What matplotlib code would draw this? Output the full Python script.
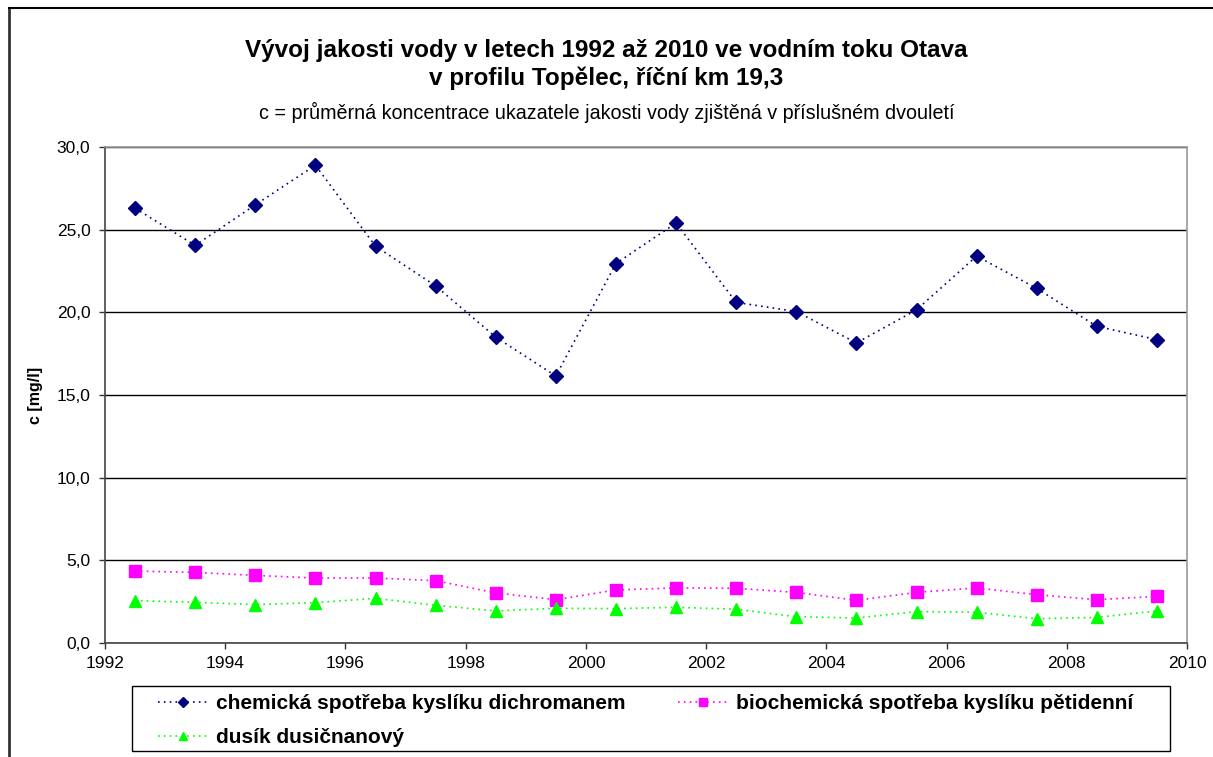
import matplotlib
matplotlib.use("Agg")
import matplotlib.pyplot as plt
from matplotlib.lines import Line2D
from matplotlib.patches import Rectangle
from matplotlib.ticker import FuncFormatter, MultipleLocator

plt.rcParams['font.family'] = ['Liberation Sans', 'DejaVu Sans']

# dvouletí 1992/93 ... 2009/10, body uprostřed intervalu
roky = [1992.5, 1993.5, 1994.5, 1995.5, 1996.5, 1997.5, 1998.5, 1999.5, 2000.5,
        2001.5, 2002.5, 2003.5, 2004.5, 2005.5, 2006.5, 2007.5, 2008.5, 2009.5]
chsk_cr = [26.3, 24.05, 26.5, 28.9, 24.0, 21.6, 18.5, 16.15, 22.95,
           25.4, 20.6, 20.05, 18.15, 20.15, 23.4, 21.45, 19.15, 18.35]
bsk5 = [4.35, 4.27, 4.09, 3.93, 3.93, 3.77, 3.03, 2.62, 3.21,
        3.33, 3.31, 3.06, 2.58, 3.06, 3.33, 2.92, 2.62, 2.82]
n_no3 = [2.56, 2.46, 2.32, 2.44, 2.70, 2.28, 1.94, 2.10, 2.08,
         2.16, 2.04, 1.59, 1.51, 1.90, 1.86, 1.47, 1.55, 1.94]

nazvy = ["chemická spotřeba kyslíku dichromanem",
         "biochemická spotřeba kyslíku pětidenní",
         "dusík dusičnanový"]

fig = plt.figure(figsize=(12.13, 7.57), dpi=100)
W, H = 1213, 757
ax = fig.add_axes([105 / W, 1 - 643 / H, (1187 - 105) / W, (643 - 147) / H])

tecky = (0, (1, 2.5))
l1, = ax.plot(roky, chsk_cr, ls=tecky, lw=1.2, color="#000080",
              marker="D", ms=7.5, mfc="#000080", mec="#000080")
l2, = ax.plot(roky, bsk5, ls=tecky, lw=1.2, color="#FF00FF",
              marker="s", ms=8.5, mfc="#FF00FF", mec="#FF00FF")
l3, = ax.plot(roky, n_no3, ls=tecky, lw=1.2, color="#00FF00",
              marker="^", ms=9, mfc="#00FF00", mec="#00FF00")

ax.set_xlim(1992, 2010)
ax.set_ylim(0, 30)
ax.xaxis.set_major_locator(MultipleLocator(2))
ax.yaxis.set_major_locator(MultipleLocator(5))
ax.yaxis.set_major_formatter(FuncFormatter(lambda v, p: f"{v:.1f}".replace(".", ",")))
ax.grid(axis="y", color="black", lw=1.0)
ax.set_axisbelow(True)
ax.tick_params(direction="out", length=4.5, width=1, labelsize=12.5, color="#333333")
ax.tick_params(axis="y", pad=6)
ax.tick_params(axis="x", pad=5)

for s in ("top", "right"):
    ax.spines[s].set_color("#999999")
    ax.spines[s].set_linewidth(1.2)
for s in ("left", "bottom"):
    ax.spines[s].set_color("#444444")
    ax.spines[s].set_linewidth(1.2)

ax.set_ylabel("c [mg/l]", fontsize=11.5, fontweight="bold", labelpad=10)

fig.text(0.5, 1 - 50 / H, "Vývoj jakosti vody v letech 1992 až 2010 ve vodním toku Otava",
         ha="center", va="center", fontsize=17.5, fontweight="bold")
fig.text(0.5, 1 - 78 / H, "v profilu Topělec, říční km 19,3",
         ha="center", va="center", fontsize=17.5, fontweight="bold")
fig.text(0.5, 1 - 112 / H,
         "c = průměrná koncentrace ukazatele jakosti vody zjištěná v příslušném dvouletí",
         ha="center", va="center", fontsize=14.2)

# vnější rámeček grafu (horní a levá hrana)
fig.add_artist(Line2D([9 / W, 9 / W], [0, 1 - 8 / H], transform=fig.transFigure,
                      color="#333333", lw=2))
fig.add_artist(Line2D([9 / W, 1], [1 - 8 / H, 1 - 8 / H], transform=fig.transFigure,
                      color="black", lw=1.5))

# rámeček legendy
fig.add_artist(Rectangle((132 / W, 1 - 751 / H), (1170 - 132) / W, (751 - 686) / H,
                         transform=fig.transFigure, fill=False,
                         edgecolor="black", lw=1.0))

# pořadí položek: matplotlib plní legendu po sloupcích
leg = fig.legend([l1, l3, l2], [nazvy[0], nazvy[2], nazvy[1]], ncol=2,
                 loc="upper left", bbox_to_anchor=(158 / W, 1 - 694 / H),
                 prop={"size": 15, "weight": "bold"}, frameon=False,
                 handlelength=2.4, borderpad=0, borderaxespad=0,
                 labelspacing=0.72, handletextpad=0.4, columnspacing=2.5,
                 markerscale=0.7)

fig.savefig("out.png", dpi=100)
